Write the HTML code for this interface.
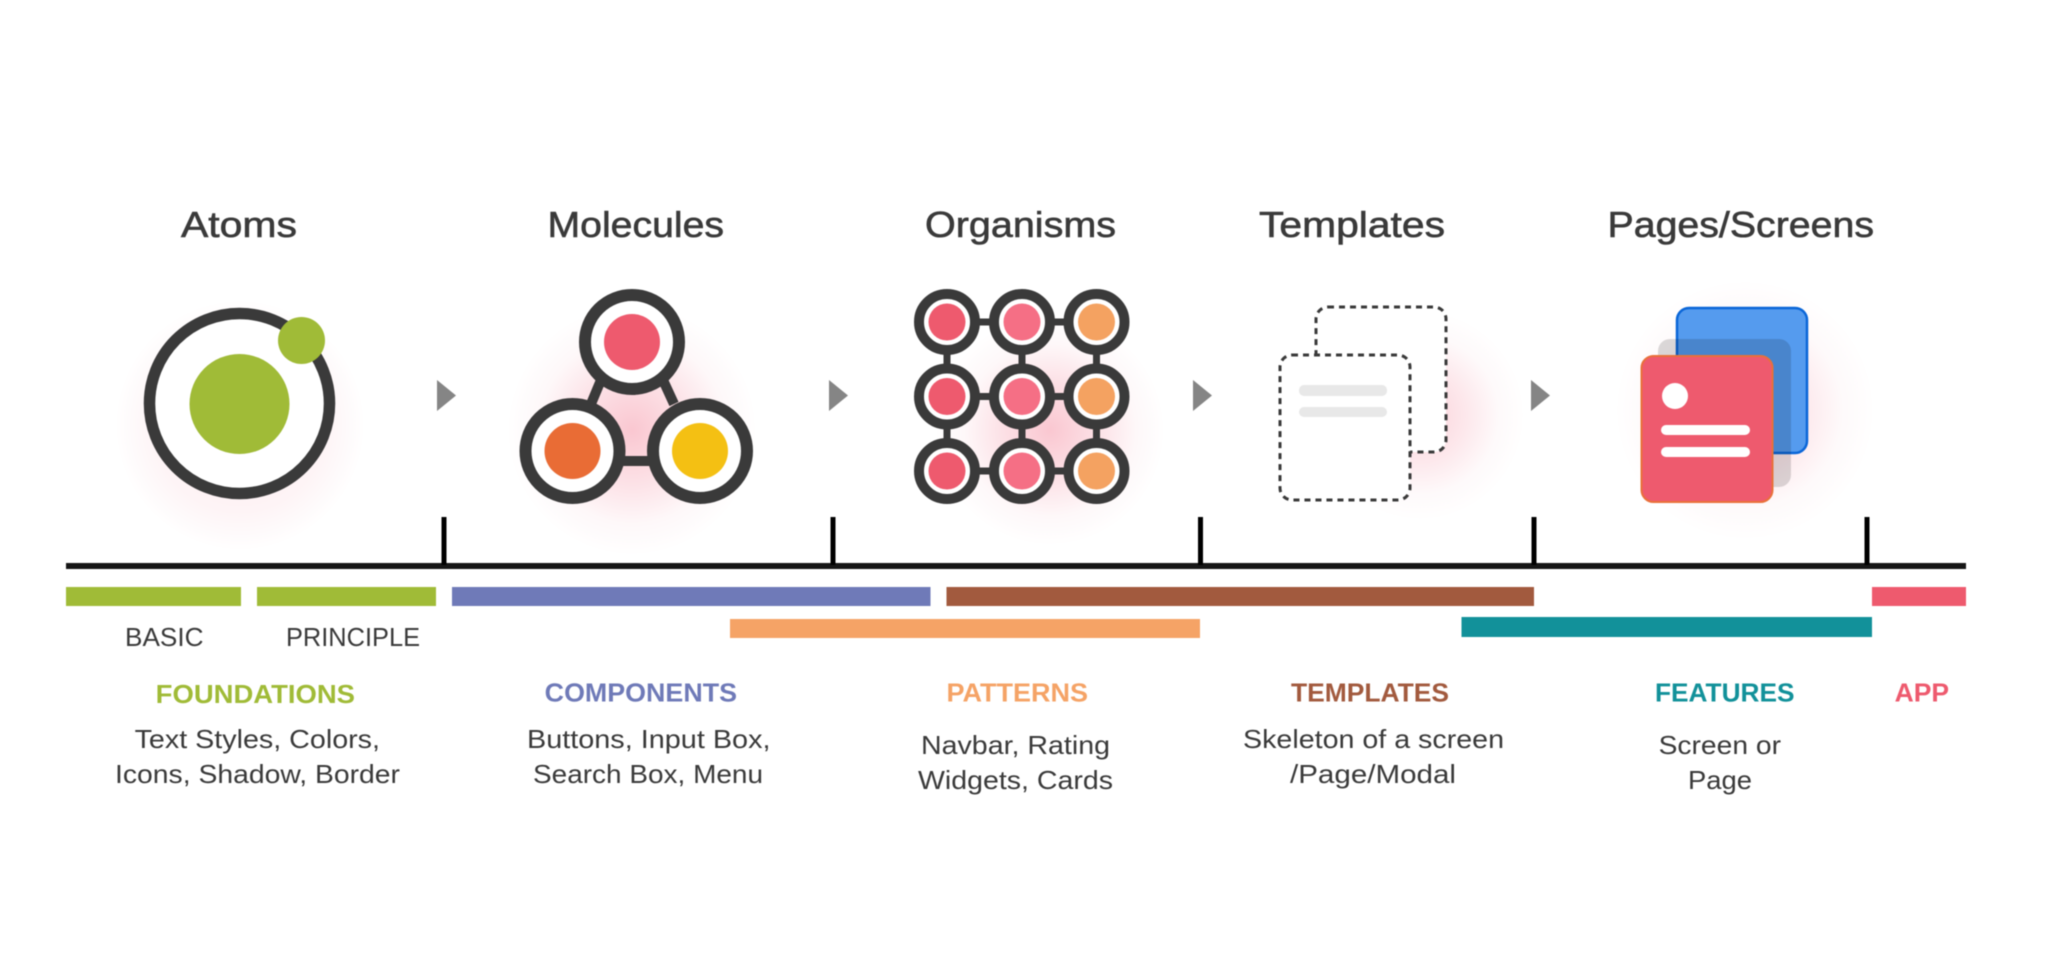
<!DOCTYPE html>
<html>
<head>
<meta charset="utf-8">
<style>
html,body{margin:0;padding:0;background:#fff;width:2046px;height:980px;overflow:hidden}
svg{display:block;filter:blur(.45px)}
text{font-family:"Liberation Sans",sans-serif}
.t{font-size:36px;fill:#3a3a3a;stroke:#3a3a3a;stroke-width:.6px}
.b{font-size:26px;fill:#3a3a3a}
.h{font-size:26px;font-weight:bold}
</style>
</head>
<body>
<svg width="2046" height="980" viewBox="0 0 2046 980" xmlns="http://www.w3.org/2000/svg">
<defs>
<radialGradient id="g0"><stop offset="0" stop-color="#f0506e" stop-opacity=".12"/><stop offset=".7" stop-color="#f0506e" stop-opacity=".06"/><stop offset="1" stop-color="#f0506e" stop-opacity="0"/></radialGradient>
<radialGradient id="g1"><stop offset="0" stop-color="#f0506e" stop-opacity=".26"/><stop offset=".45" stop-color="#f0506e" stop-opacity=".13"/><stop offset=".75" stop-color="#f0506e" stop-opacity=".03"/><stop offset="1" stop-color="#f0506e" stop-opacity="0"/></radialGradient>
<radialGradient id="g2"><stop offset="0" stop-color="#f0506e" stop-opacity=".32"/><stop offset=".45" stop-color="#f0506e" stop-opacity=".16"/><stop offset=".75" stop-color="#f0506e" stop-opacity=".04"/><stop offset="1" stop-color="#f0506e" stop-opacity="0"/></radialGradient>
</defs>
<rect width="2046" height="980" fill="#fff"/>

<!-- glows -->
<circle cx="240" cy="425" r="125" fill="url(#g0)"/>
<circle cx="632" cy="430" r="125" fill="url(#g2)"/>
<circle cx="1050" cy="430" r="115" fill="url(#g2)"/>
<circle cx="1420" cy="415" r="105" fill="url(#g1)"/>
<circle cx="1745" cy="410" r="130" fill="url(#g1)"/>

<!-- titles -->
<text class="t" x="181" y="237" textLength="116" lengthAdjust="spacingAndGlyphs">Atoms</text>
<text class="t" x="547.5" y="237" textLength="176.5" lengthAdjust="spacingAndGlyphs">Molecules</text>
<text class="t" x="925" y="237" textLength="191" lengthAdjust="spacingAndGlyphs">Organisms</text>
<text class="t" x="1259" y="237" textLength="186" lengthAdjust="spacingAndGlyphs">Templates</text>
<text class="t" x="1607.5" y="237" textLength="266.5" lengthAdjust="spacingAndGlyphs">Pages/Screens</text>

<!-- atom -->
<circle cx="239.5" cy="403.5" r="90" fill="#fff" stroke="#3a3a3a" stroke-width="11.5"/>
<circle cx="239.5" cy="404" r="50" fill="#a0bb37"/>
<circle cx="301.5" cy="340.5" r="23.5" fill="#a0bb37"/>

<!-- arrows -->
<g fill="#858585">
<polygon points="437,380 456,395.5 437,411"/>
<polygon points="829,380 848,395.5 829,411"/>
<polygon points="1193,380 1212,395.5 1193,411"/>
<polygon points="1531,380 1550,395.5 1531,411"/>
</g>

<!-- molecule -->
<g stroke="#3a3a3a" stroke-width="10">
<line x1="601" y1="380" x2="591" y2="404"/>
<line x1="663" y1="380" x2="674" y2="404"/>
<line x1="620" y1="461" x2="650" y2="461"/>
</g>
<g fill="#fff" stroke="#3a3a3a" stroke-width="12">
<circle cx="632" cy="342" r="47"/>
<circle cx="572.5" cy="451" r="47"/>
<circle cx="700" cy="451" r="47"/>
</g>
<circle cx="632" cy="342" r="28" fill="#ee5a6e"/>
<circle cx="572.5" cy="451" r="28" fill="#e96c35"/>
<circle cx="700" cy="451" r="28" fill="#f4c013"/>

<!-- organism -->
<g stroke="#3a3a3a" stroke-width="7">
<line x1="947" y1="322" x2="1096.5" y2="322"/>
<line x1="947" y1="396.5" x2="1096.5" y2="396.5"/>
<line x1="947" y1="471" x2="1096.5" y2="471"/>
<line x1="947" y1="322" x2="947" y2="471"/>
<line x1="1022" y1="322" x2="1022" y2="471"/>
<line x1="1096.5" y1="322" x2="1096.5" y2="471"/>
</g>
<g fill="#fff" stroke="#3a3a3a" stroke-width="10">
<circle cx="947" cy="322" r="28"/><circle cx="1022" cy="322" r="28"/><circle cx="1096.5" cy="322" r="28"/>
<circle cx="947" cy="396.5" r="28"/><circle cx="1022" cy="396.5" r="28"/><circle cx="1096.5" cy="396.5" r="28"/>
<circle cx="947" cy="471" r="28"/><circle cx="1022" cy="471" r="28"/><circle cx="1096.5" cy="471" r="28"/>
</g>
<g fill="#ee5a6e"><circle cx="947" cy="322" r="18.5"/><circle cx="947" cy="396.5" r="18.5"/><circle cx="947" cy="471" r="18.5"/></g>
<g fill="#f56f85"><circle cx="1022" cy="322" r="18.5"/><circle cx="1022" cy="396.5" r="18.5"/><circle cx="1022" cy="471" r="18.5"/></g>
<g fill="#f4a261"><circle cx="1096.5" cy="322" r="18.5"/><circle cx="1096.5" cy="396.5" r="18.5"/><circle cx="1096.5" cy="471" r="18.5"/></g>

<!-- templates -->
<rect x="1316" y="307" width="130" height="145" rx="12" fill="#fff" stroke="#3a3a3a" stroke-width="3" stroke-dasharray="6 5"/>
<rect x="1280" y="355" width="130" height="145" rx="12" fill="#fff" stroke="#3a3a3a" stroke-width="3" stroke-dasharray="6 5"/>
<rect x="1299" y="385" width="88" height="11" rx="5" fill="#e8e8e8"/>
<rect x="1299" y="407" width="88" height="10" rx="5" fill="#e8e8e8"/>

<!-- pages -->
<rect x="1677" y="308" width="130" height="145" rx="12" fill="#559bee" stroke="#0a66d8" stroke-width="2.5"/>
<rect x="1658" y="339" width="133" height="148" rx="12" fill="#000" fill-opacity=".14"/>
<rect x="1641.5" y="356" width="131" height="146" rx="12" fill="#ee5a6e" stroke="#e9703a" stroke-width="2"/>
<circle cx="1675" cy="396" r="13" fill="#fff"/>
<rect x="1661" y="425" width="89" height="10" rx="5" fill="#fff"/>
<rect x="1661" y="447" width="89" height="10" rx="5" fill="#fff"/>

<!-- timeline -->
<rect x="66" y="563" width="1900" height="6" fill="#161616"/>
<g fill="#000">
<rect x="441.5" y="517" width="5" height="48"/>
<rect x="830.5" y="517" width="5" height="48"/>
<rect x="1198" y="517" width="5" height="48"/>
<rect x="1531.5" y="517" width="5" height="48"/>
<rect x="1864.5" y="517" width="5" height="48"/>
</g>

<!-- bars -->
<rect x="66" y="587" width="175" height="19" fill="#a0bb37"/>
<rect x="257" y="587" width="179" height="19" fill="#a0bb37"/>
<rect x="452" y="587" width="478.5" height="19" fill="#6f7ab8"/>
<rect x="946.5" y="587" width="587.5" height="19" fill="#a25a3e"/>
<rect x="730" y="619" width="470" height="19" fill="#f5a366"/>
<rect x="1461.5" y="617" width="410.5" height="20" fill="#12919a"/>
<rect x="1872" y="587" width="94" height="19" fill="#ee5a6e"/>

<!-- small labels -->
<text class="b" x="125" y="646" textLength="78.5" lengthAdjust="spacingAndGlyphs">BASIC</text>
<text class="b" x="286" y="646" textLength="134" lengthAdjust="spacingAndGlyphs">PRINCIPLE</text>

<!-- headers -->
<text class="h" fill="#a0bb37" x="155.7" y="703" textLength="199.3" lengthAdjust="spacingAndGlyphs">FOUNDATIONS</text>
<text class="h" fill="#6f7ab8" x="544.7" y="701.5" textLength="192.3" lengthAdjust="spacingAndGlyphs">COMPONENTS</text>
<text class="h" fill="#f5a366" x="946.5" y="701.5" textLength="141.5" lengthAdjust="spacingAndGlyphs">PATTERNS</text>
<text class="h" fill="#a25a3e" x="1291" y="701.5" textLength="158" lengthAdjust="spacingAndGlyphs">TEMPLATES</text>
<text class="h" fill="#12919a" x="1655" y="701.5" textLength="139.5" lengthAdjust="spacingAndGlyphs">FEATURES</text>
<text class="h" fill="#ee5a6e" x="1894.6" y="701.5" textLength="54.4" lengthAdjust="spacingAndGlyphs">APP</text>

<!-- descriptions -->
<text class="b" x="134.6" y="748" textLength="245.4" lengthAdjust="spacingAndGlyphs">Text Styles, Colors,</text>
<text class="b" x="115" y="783" textLength="285" lengthAdjust="spacingAndGlyphs">Icons, Shadow, Border</text>
<text class="b" x="527" y="748" textLength="243.5" lengthAdjust="spacingAndGlyphs">Buttons, Input Box,</text>
<text class="b" x="533" y="783" textLength="230" lengthAdjust="spacingAndGlyphs">Search Box, Menu</text>
<text class="b" x="921" y="754" textLength="189" lengthAdjust="spacingAndGlyphs">Navbar, Rating</text>
<text class="b" x="918" y="789" textLength="195" lengthAdjust="spacingAndGlyphs">Widgets, Cards</text>
<text class="b" x="1243" y="748" textLength="261" lengthAdjust="spacingAndGlyphs">Skeleton of a screen</text>
<text class="b" x="1290" y="783" textLength="166" lengthAdjust="spacingAndGlyphs">/Page/Modal</text>
<text class="b" x="1658.6" y="754" textLength="122.4" lengthAdjust="spacingAndGlyphs">Screen or</text>
<text class="b" x="1688" y="789" textLength="64" lengthAdjust="spacingAndGlyphs">Page</text>
</svg>
</body>
</html>
